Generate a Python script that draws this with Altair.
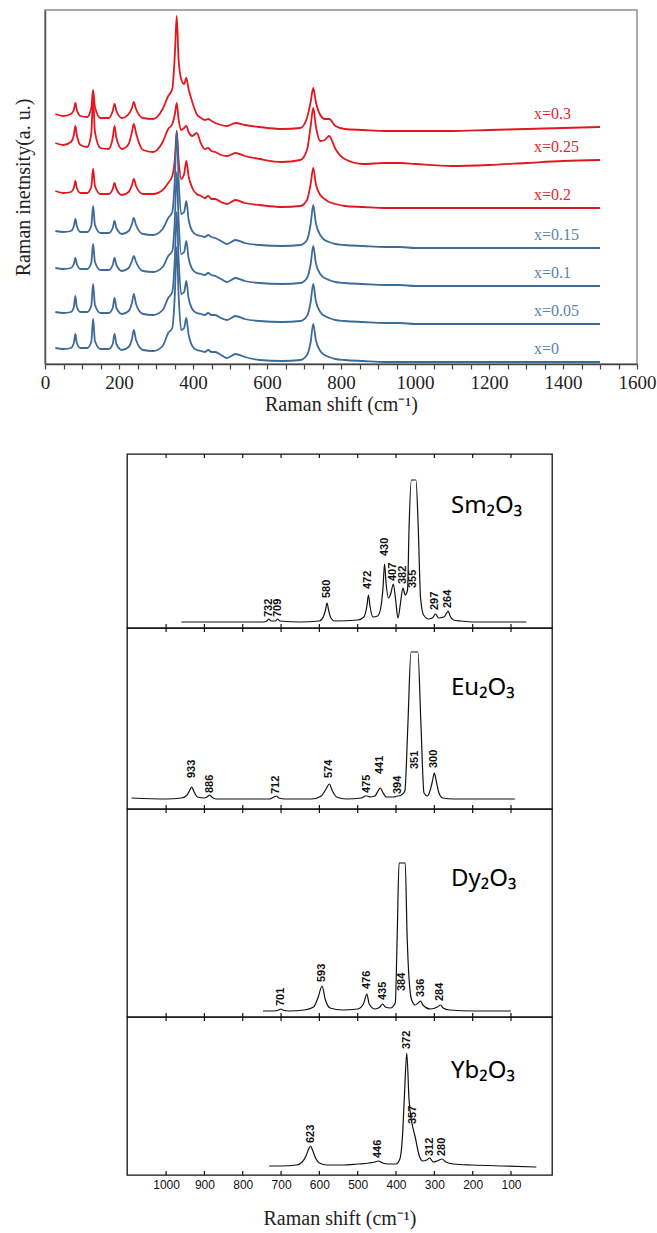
import altair as alt
import pandas as pd

# ---------------------------------------------------------------------------
# Upper figure: stacked Raman spectra of the doped samples (x = 0 ... 0.3)
# ---------------------------------------------------------------------------
shift = [28, 50, 70, 78, 82, 86, 96,
         114, 125, 130, 135, 150,
         172, 183, 188, 193, 208,
         226, 235, 240, 246, 265,
         292, 318, 333, 344, 351,
         356, 361, 368, 376, 382,
         388, 398, 410, 422, 432,
         441, 450, 460, 476, 492,
         515, 540, 580, 640, 690,
         708, 718, 725, 732, 744,
         756, 768, 785, 810, 860,
         920, 960, 1000, 1100, 1200,
         1300, 1400, 1500]

x_0 = [16, 15, 16, 21, 30, 21, 16,
       16, 22, 45, 23, 15,
       15, 20, 30, 20, 14,
       17, 25, 34, 24, 14,
       13, 18, 31, 36, 70,
       117, 70, 34, 36, 46,
       30, 18, 14, 13, 12,
       14, 12, 12, 9, 6,
       10, 7, 4, 3, 4,
       9, 22, 40, 24, 13,
       9, 7, 5, 4, 3,
       2, 2, 2, 2, 2,
       2, 2, 2]

x_005 = [52, 51, 52, 57, 68, 57, 52,
         52, 58, 80, 59, 51,
         51, 56, 66, 56, 50,
         53, 61, 70, 60, 50,
         49, 54, 66, 72, 106,
         152, 106, 70, 72, 83,
         66, 55, 51, 50, 49,
         51, 49, 49, 46, 44,
         48, 45, 43, 42, 43,
         48, 62, 80, 63, 52,
         48, 46, 44, 43, 42,
         41, 41, 40, 40, 40,
         40, 40, 40]

x_01 = [96, 95, 96, 100, 106, 100, 95,
        95, 101, 120, 102, 94,
        94, 99, 106, 99, 93,
        96, 103, 108, 102, 93,
        92, 97, 108, 113, 145,
        192, 145, 110, 112, 123,
        106, 95, 91, 90, 89,
        91, 89, 88, 85, 82,
        86, 83, 81, 80, 81,
        86, 100, 118, 101, 90,
        86, 84, 82, 81, 80,
        79, 79, 78, 78, 78,
        78, 78, 78]

x_015 = [133, 132, 133, 138, 145, 138, 132,
         132, 138, 158, 139, 131,
         131, 136, 143, 136, 130,
         133, 140, 146, 139, 130,
         129, 135, 146, 152, 186,
         233, 186, 150, 152, 163,
         145, 133, 129, 128, 127,
         129, 127, 126, 123, 120,
         124, 121, 119, 118, 119,
         124, 140, 159, 141, 129,
         124, 122, 120, 119, 118,
         117, 117, 116, 116, 116,
         116, 116, 116]

x_02 = [173, 171, 172, 176, 183, 176, 171,
        171, 177, 195, 178, 170,
        170, 175, 181, 175, 169,
        172, 179, 185, 178, 170,
        170, 174, 181, 188, 205,
        233, 205, 185, 190, 203,
        188, 176, 170, 168, 166,
        168, 165, 165, 162, 160,
        164, 161, 159, 157, 158,
        164, 180, 196, 180, 169,
        165, 162, 160, 158, 157,
        156, 156, 156, 156, 156,
        156, 156, 156]

x_025 = [221, 219, 222, 229, 238, 229, 219,
         217, 230, 265, 232, 216,
         215, 226, 238, 226, 215,
         220, 232, 240, 231, 214,
         212, 222, 235, 240, 250,
         261, 245, 234, 236, 238,
         232, 228, 231, 220, 215,
         216, 213, 212, 209, 208,
         211, 208, 205, 202, 204,
         214, 238, 256, 238, 223,
         224, 228, 215, 205, 200,
         201, 201, 200, 198, 199,
         201, 203, 204]

x_03 = [250, 248, 250, 254, 261, 254, 248,
        247, 256, 274, 257, 246,
        246, 253, 260, 253, 246,
        250, 256, 262, 255, 246,
        245, 255, 268, 275, 310,
        348, 305, 285, 280, 286,
        275, 262, 250, 246, 244,
        245, 243, 241, 239, 238,
        241, 239, 237, 235, 236,
        246, 262, 276, 262, 249,
        245, 245, 238, 235, 234,
        233, 233, 233, 233, 234,
        235, 236, 237]

series_names = ["x=0.3", "x=0.25", "x=0.2", "x=0.15", "x=0.1", "x=0.05", "x=0"]
series_values = [x_03, x_025, x_02, x_015, x_01, x_005, x_0]
series_colors = ["#e3171f", "#e3171f", "#e3171f",
                 "#3c6b9a", "#3c6b9a", "#3c6b9a", "#3c6b9a"]
label_colors = ["#e5262d", "#e5262d", "#e5262d",
                "#5a83ab", "#5a83ab", "#5a83ab", "#5a83ab"]

rows = []
for name, vals in zip(series_names, series_values):
    for s, v in zip(shift, vals):
        rows.append({"series": name, "shift": s, "intensity": v})
spectra = pd.DataFrame(rows)
end_labels = pd.DataFrame({
    "series": series_names,
    "intensity": [vals[-1] for vals in series_values],
})

serif = "Liberation Serif"
top_x = alt.X(
    "shift:Q",
    scale=alt.Scale(domain=[0, 1600], nice=False, zero=False),
    axis=alt.Axis(
        values=list(range(0, 1601, 50)),
        labelExpr="datum.value % 200 == 0 ? datum.label : ''",
        format="d", grid=False, labelOverlap=False, labelFlush=False,
        tickSize=5, tickWidth=1.2, tickColor="#444",
        domainColor="#444", domainWidth=1.5,
        labelFont=serif, labelFontSize=19, labelColor="#222", labelPadding=4,
        title="Raman shift (cm⁻¹)", titleFont=serif, titleFontSize=20,
        titleFontWeight="normal", titleColor="#222", titlePadding=2,
    ),
)
top_y = alt.Y(
    "intensity:Q",
    scale=alt.Scale(domain=[0, 354], nice=False, zero=False),
    axis=alt.Axis(
        labels=False, ticks=False, grid=False,
        domainColor="#555", domainWidth=1.5,
        title="Raman inetnsity(a. u.)", titleFont=serif, titleFontSize=20,
        titleFontWeight="normal", titleColor="#222", titlePadding=12,
    ),
)

top_lines = alt.Chart(spectra).mark_line(strokeWidth=1.8, interpolate="monotone").encode(
    x=top_x, y=top_y,
    color=alt.Color("series:N", scale=alt.Scale(domain=series_names, range=series_colors),
                    legend=None),
)
top_text = alt.Chart(end_labels).mark_text(
    align="left", baseline="middle", dy=-13, font=serif, fontSize=16
).encode(
    x=alt.value(489), y=top_y, text="series:N",
    color=alt.Color("series:N", scale=alt.Scale(domain=series_names, range=label_colors),
                    legend=None),
)
top = alt.layer(top_lines, top_text).resolve_scale(color="independent").properties(
    width=592, height=354,
    view=alt.ViewBackground(stroke="#8f8f8f", strokeWidth=1.5),
)

# ---------------------------------------------------------------------------
# Lower figure: reference spectra of four sesquioxides
# ---------------------------------------------------------------------------
sm_shift = [960, 800, 745, 737, 732, 726, 715, 709, 703, 650,
            600, 590, 584, 580, 576, 570, 560, 500, 484, 476,
            472, 468, 460, 448, 440, 434, 430, 426, 420, 414,
            407, 401, 395, 388, 382, 376, 370, 366, 360, 348,
            342, 336, 328, 315, 305, 297, 289, 275, 268, 264,
            259, 250, 230, 200, 120, 60]
sm_int = [6, 6, 6, 7, 9, 7, 7, 9, 7, 6,
          7, 11, 18, 25, 18, 10, 7, 8, 11, 22,
          33, 22, 11, 12, 20, 40, 64, 45, 30, 34,
          44, 28, 10, 26, 40, 33, 38, 100, 148, 148,
          100, 30, 13, 9, 10, 14, 10, 11, 15, 17,
          12, 8, 7, 6, 6, 6]
sm_peaks = [732, 709, 580, 472, 430, 407, 382, 355, 297, 264]
sm_label_y = [11, 11, 30, 39, 72, 47, 44, 40, 18, 20]

eu_shift = [1090, 1000, 960, 945, 938, 933, 928, 918, 900, 890,
            886, 881, 870, 800, 730, 718, 712, 706, 690, 620,
            595, 584, 574, 566, 555, 530, 490, 480, 475, 468,
            455, 447, 441, 435, 425, 405, 397, 394, 386, 377,
            369, 361, 343, 335, 327, 318, 310, 305, 300, 295,
            288, 278, 250, 200, 150, 90]
eu_int = [11, 10, 11, 14, 19, 22, 18, 12, 11, 13,
          14, 12, 10, 10, 10, 12, 13, 11, 10, 10,
          13, 19, 25, 18, 12, 10, 11, 13, 13, 12,
          13, 18, 21, 17, 12, 12, 13, 13, 14, 18,
          85, 157, 157, 85, 16, 13, 20, 28, 36, 28,
          16, 11, 10, 10, 10, 10]
eu_peaks = [933, 886, 712, 574, 475, 441, 394, 351, 300]
eu_label_y = [31, 16, 15, 31, 16, 35, 15, 40, 41]

dy_shift = [747, 720, 706, 701, 696, 680, 640, 615, 603, 593,
            585, 572, 540, 500, 485, 476, 470, 455, 442, 435,
            428, 415, 402, 397, 392, 376, 371, 360, 350, 342,
            336, 330, 310, 292, 284, 277, 260, 200, 150, 100]
dy_int = [6, 6, 7, 8, 7, 6, 7, 10, 20, 31,
          18, 9, 7, 8, 13, 23, 13, 8, 10, 13,
          10, 9, 14, 80, 154, 154, 80, 18, 12, 14,
          16, 12, 8, 10, 12, 9, 7, 6, 6, 6]
dy_peaks = [701, 593, 476, 435, 384, 336, 284]
dy_label_y = [11, 35, 28, 17, 26, 20, 16]

yb_shift = [731, 700, 660, 645, 635, 628, 623, 618, 610, 600,
            580, 540, 500, 470, 455, 446, 435, 420, 400, 390,
            383, 378, 372, 366, 360, 357, 350, 340, 330, 320,
            312, 303, 292, 280, 270, 250, 200, 120, 34]
yb_int = [9, 9, 10, 13, 19, 26, 29, 25, 17, 12,
          10, 10, 11, 12, 13, 14, 12, 11, 11, 16,
          40, 80, 122, 75, 55, 49, 38, 20, 14, 15,
          17, 13, 14, 16, 13, 11, 10, 9, 8]
yb_peaks = [623, 446, 372, 357, 312, 280]
yb_label_y = [32, 17, 126, 51, 19, 19]

tick_values = [100, 200, 300, 400, 500, 600, 700, 800, 900, 1000]
sans = "Liberation Sans"


def oxide_panel(xs, ys, peaks, label_y, name, height, name_y, last=False):
    spec = pd.DataFrame({"shift": xs, "intensity": ys})
    marks = pd.DataFrame({"shift": peaks, "lift": label_y,
                          "text": [str(p) for p in peaks]})
    ticks = pd.DataFrame({"shift": tick_values})
    if last:
        x_axis = alt.Axis(
            values=tick_values, format="d", ticks=False, domain=False, grid=False,
            labelFlush=False, labelOverlap=False,
            labelFont=sans, labelFontSize=12, labelColor="#111", labelPadding=4,
            title="Raman shift (cm⁻¹)", titleFont=serif, titleFontSize=20,
            titleFontWeight="normal", titleColor="#222", titlePadding=18,
        )
    else:
        x_axis = None
    X = alt.X("shift:Q", scale=alt.Scale(domain=[-7, 1102], reverse=True, nice=False,
                                         zero=False), axis=x_axis)
    Y = alt.Y("intensity:Q", scale=alt.Scale(domain=[0, height], nice=False, zero=False),
              axis=None)
    line = alt.Chart(spec).mark_line(color="#111", strokeWidth=1.2,
                                     interpolate="monotone").encode(x=X, y=Y)
    text = alt.Chart(marks).mark_text(
        angle=270, align="left", baseline="middle", font=sans, fontSize=11,
        fontWeight="bold", color="#111"
    ).encode(x=X, y=alt.Y("lift:Q", scale=alt.Scale(domain=[0, height], nice=False,
                                                     zero=False), axis=None),
             text="text:N")
    top_ticks = alt.Chart(ticks).mark_rule(color="#111", strokeWidth=1.2).encode(
        x=X, y=alt.value(0), y2=alt.value(4))
    bottom_ticks = alt.Chart(ticks).mark_rule(color="#111", strokeWidth=1.2).encode(
        x=X, y=alt.value(height - 4), y2=alt.value(height))
    title = alt.Chart(pd.DataFrame({"name": [name]})).mark_text(
        align="left", baseline="middle", font="Noto Sans", fontSize=24, color="#000"
    ).encode(x=alt.value(324), y=alt.value(name_y), text="name:N")
    return alt.layer(line, text, top_ticks, bottom_ticks, title).properties(
        width=425, height=height,
        view=alt.ViewBackground(stroke="#111", strokeWidth=1.3),
    )


panels = alt.vconcat(
    oxide_panel(sm_shift, sm_int, sm_peaks, sm_label_y, "Sm₂O₃", 174, 52),
    oxide_panel(eu_shift, eu_int, eu_peaks, eu_label_y, "Eu₂O₃", 181, 60),
    oxide_panel(dy_shift, dy_int, dy_peaks, dy_label_y, "Dy₂O₃", 208, 70),
    oxide_panel(yb_shift, yb_int, yb_peaks, yb_label_y, "Yb₂O₃", 158, 54, last=True),
    spacing=0, bounds="flush",
)

spacer = alt.Chart(pd.DataFrame({"v": [0]})).mark_point(opacity=0).encode(
    x=alt.value(0), y=alt.value(0)
).properties(width=82, height=10, view=alt.ViewBackground(stroke="transparent"))

lower = alt.hconcat(spacer, panels, spacing=0, bounds="flush")

chart = alt.vconcat(top, lower, spacing=90, bounds="flush").properties(
    padding={"left": 12, "top": 9, "right": 0, "bottom": 0},
    background="white",
)

chart.save("out.html", embed_options={"renderer": "svg", "actions": False})
